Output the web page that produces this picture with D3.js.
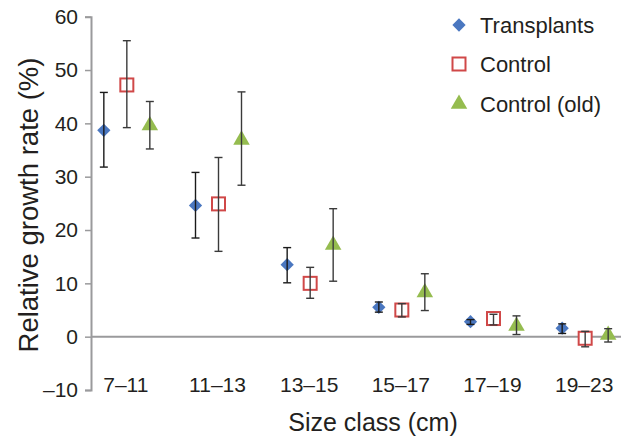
<!DOCTYPE html>
<html lang="en">
<head>
<meta charset="UTF-8">
<script src="https://d3js.org/d3.v7.min.js"></script>
<style>
  body { margin: 0; background: #fff; }
  text { font-family: "Liberation Sans", Arial, sans-serif; fill: #231f20; }
</style>
</head>
<body>
<div id="chart"></div>
<script>
  // size classes on the x axis
  var categories = ["7\u201311", "11\u201313", "13\u201315", "15\u201317", "17\u201319", "19\u201323"];
  var yTicks = [-10, 0, 10, 20, 30, 40, 50, 60];
  var seriesNames = ["Transplants", "Control", "Control (old)"];

  // mean, lower and upper end of error bar
  var transplants = [38.7, 24.6, 13.5, 5.5, 2.8, 1.6];
  var transplantsLo = [31.8, 18.5, 10.1, 4.6, 2.3, 0.6];
  var transplantsHi = [45.8, 30.8, 16.7, 6.5, 3.2, 2.4];

  var control = [47.2, 24.9, 10.0, 5.0, 3.4, -0.3];
  var controlLo = [39.2, 16.0, 7.2, 3.7, 2.2, -1.9];
  var controlHi = [55.5, 33.6, 13.0, 6.2, 4.2, 1.0];

  var controlOld = [39.6, 36.9, 17.2, 8.3, 2.0, 0.3];
  var controlOldLo = [35.2, 28.4, 10.4, 4.9, 0.4, -1.0];
  var controlOldHi = [44.1, 45.9, 24.0, 11.8, 3.9, 1.5];

  var W = 626, H = 439;
  var svg = d3.select("#chart").append("svg")
      .attr("width", W).attr("height", H);

  var x = d3.scaleBand().domain(categories).range([81, 631]);
  var y = d3.scaleLinear().domain([-10, 60]).range([390, 16.7]);
  var axisX = 91;

  var series = [
    {name: seriesNames[0], mean: transplants, lo: transplantsLo, hi: transplantsHi, off: -23, color: "#4a77c0", bar: "#1a1a1a"},
    {name: seriesNames[1], mean: control, lo: controlLo, hi: controlHi, off: 0, color: "#d04848", bar: "#3a3a3a"},
    {name: seriesNames[2], mean: controlOld, lo: controlOldLo, hi: controlOldHi, off: 23, color: "#95bc4f", bar: "#3a3a3a"}
  ];

  // y axis
  var yAxis = svg.append("g")
      .attr("transform", "translate(" + axisX + ",0)")
      .call(d3.axisLeft(y).tickValues(yTicks).tickSize(6).tickPadding(7)
        .tickFormat(function(d) { return d < 0 ? "\u2013" + Math.abs(d) : d; }));
  yAxis.select(".domain").attr("stroke", "#9a9a9c").attr("stroke-width", 2);
  yAxis.selectAll(".tick line").attr("stroke", "#9a9a9c").attr("stroke-width", 1.5);
  yAxis.selectAll(".tick text").attr("font-size", 21).attr("fill", "#231f20")
      .attr("font-family", "Liberation Sans, Arial, sans-serif");

  // zero line
  svg.append("line")
      .attr("x1", axisX).attr("x2", 621)
      .attr("y1", y(0)).attr("y2", y(0))
      .attr("stroke", "#9a9a9c").attr("stroke-width", 2);

  // category labels
  svg.selectAll(".cat").data(categories).enter().append("text")
      .attr("class", "cat")
      .attr("x", function(d) { return x(d) + x.bandwidth() / 2 - 1; })
      .attr("y", 392)
      .attr("text-anchor", "middle")
      .attr("font-size", 21)
      .text(function(d) { return d; });

  // axis titles
  svg.append("text")
      .attr("transform", "translate(38," + 205 + ") rotate(-90)")
      .attr("text-anchor", "middle")
      .attr("font-size", 27.5)
      .text("Relative growth rate (%)");
  svg.append("text")
      .attr("x", 373).attr("y", 431)
      .attr("text-anchor", "middle")
      .attr("font-size", 25)
      .text("Size class (cm)");

  function drawMarker(g, s, cx, cy) {
    if (s.name === "Transplants") {
      g.append("path")
          .attr("d", d3.symbol(d3.symbolSquare, 88)())
          .attr("transform", "translate(" + cx + "," + cy + ") rotate(45)")
          .attr("fill", s.color);
    } else if (s.name === "Control") {
      g.append("rect")
          .attr("x", cx - 6.5).attr("y", cy - 6.5)
          .attr("width", 13).attr("height", 13)
          .attr("fill", "#fff").attr("stroke", s.color).attr("stroke-width", 2);
    } else {
      g.append("path")
          .attr("d", d3.symbol(d3.symbolTriangle, 118)())
          .attr("transform", "translate(" + cx + "," + cy + ")")
          .attr("fill", s.color);
    }
  }

  series.forEach(function(s) {
    var g = svg.append("g");
    categories.forEach(function(c, i) {
      var cx = x(c) + x.bandwidth() / 2 + s.off;
      drawMarker(g, s, cx, y(s.mean[i]));
      // error bar on top of the marker
      g.append("line")
          .attr("x1", cx).attr("x2", cx)
          .attr("y1", y(s.lo[i])).attr("y2", y(s.hi[i]))
          .attr("stroke", s.bar).attr("stroke-width", 1.4);
      [s.lo[i], s.hi[i]].forEach(function(v) {
        g.append("line")
            .attr("x1", cx - 4).attr("x2", cx + 4)
            .attr("y1", y(v)).attr("y2", y(v))
            .attr("stroke", s.bar).attr("stroke-width", 1.4);
      });
    });
  });

  // legend
  var legend = svg.append("g");
  var legendY = [25, 64, 104];
  series.forEach(function(s, i) {
    drawMarker(legend, s, 459, legendY[i]);
    legend.append("text")
        .attr("x", 480).attr("y", legendY[i])
        .attr("dy", "0.35em")
        .attr("font-size", 22)
        .text(s.name);
  });
</script>
</body>
</html>
